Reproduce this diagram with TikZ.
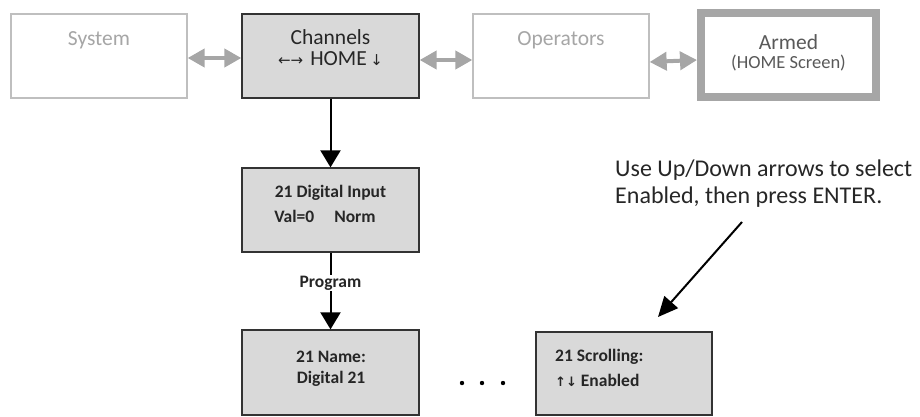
\documentclass[tikz,border=0pt]{standalone}
\usepackage{fontspec}
\setmainfont{Carlito}
\newfontfamily\arrfont{DejaVu Sans}
\usetikzlibrary{arrows.meta}
\definecolor{boxfill}{HTML}{D9D9D9}
\definecolor{lightedge}{HTML}{BFBFBF}
\definecolor{lighttext}{HTML}{A6A6A6}
\definecolor{midgray}{HTML}{A6A6A6}
\definecolor{armedtext}{HTML}{595959}
\definecolor{darktext}{HTML}{262626}
\tikzset{
  lightbox/.style={draw=lightedge, line width=1.3pt, fill=white, minimum width=176pt, minimum height=84pt, inner sep=0pt},
  greybox/.style={draw=black!80, line width=1.3pt, fill=boxfill, minimum width=177pt, minimum height=84pt, inner sep=0pt},
  armedbox/.style={draw=midgray, line width=8pt, fill=white, minimum width=175pt, minimum height=84pt, inner sep=0pt},
  bigtxt/.style={font=\fontsize{21.5}{25}\selectfont, inner sep=0pt},
  smalltxt/.style={font=\bfseries\fontsize{17.5}{20}\selectfont, text=darktext, inner sep=0pt},
  grayarrow/.style={draw=midgray, line width=4pt, {Triangle[length=17pt,width=18pt]}-{Triangle[length=17pt,width=18pt]}},
  blackarrow/.style={draw=black, line width=2pt, -{Triangle[length=17pt,width=20pt]}},
}
\begin{document}
\begin{tikzpicture}[x=1pt,y=-1pt]
\useasboundingbox (0,0) rectangle (920,416);

% top row
\node[lightbox] (sys) at (99,56) {};
\node[greybox] (ch) at (330.5,56) {};
\node[lightbox] (op) at (561,56) {};
\node[armedbox] (arm) at (788.5,55) {};

\node[bigtxt, text=lighttext] (sysT) at (99,40) {System};
\node[bigtxt, text=darktext] (chT1) at (330.5,37) {Channels};
\node[bigtxt, text=darktext, anchor=base] (chT2) at (330.5,65) {{\arrfont\fontsize{15}{17}\selectfont ←→}\,\,HOME\,{\arrfont\fontsize{15}{17}\selectfont ↓}};
\node[bigtxt, text=lighttext] (opT) at (561,40) {Operators};
\node[bigtxt, text=armedtext] (armT1) at (788.5,42) {Armed};
\node[inner sep=0pt, font=\fontsize{18.5}{20}\selectfont, text=armedtext] (armT2) at (788.5,63) {(HOME Screen)};

\draw[grayarrow] ([yshift=-2pt]sys.east) -- ([yshift=-2pt]ch.west);
\draw[grayarrow] ([yshift=-4pt]ch.east) -- ([yshift=-4pt]op.west);
\draw[grayarrow] ([yshift=-6pt]op.east) -- ([yshift=-5pt]arm.west);

% lower boxes
\node[greybox] (dig) at (330.5,210) {};
\node[smalltxt] (digT1) at (330.5,193) {21 Digital Input};
\node[smalltxt] (digT2) at (325,216) {Val=0\hspace{20pt}Norm};

\node[greybox, minimum height=85pt] (nm) at (330.5,372.5) {};
\node[smalltxt] (nmT1) at (331,357) {21 Name:};
\node[smalltxt] (nmT2) at (331,379) {Digital 21};

\node[greybox, minimum width=176pt, minimum height=83pt] (scr) at (624,373.5) {};
\node[smalltxt, anchor=west] (scrT1) at (555,357) {21 Scrolling:};
\node[smalltxt, anchor=west] (scrT2) at (555,380) {{\arrfont\fontsize{13}{15}\selectfont ↑↓} Enabled};

\draw[blackarrow] (ch.south) -- (dig.north);
\draw[blackarrow] (dig.south) -- (nm.north)
  node[pos=0.4, fill=white, inner sep=1pt, font=\bfseries\fontsize{17.5}{20}\selectfont, text=darktext] (prog) {Program};

% dots
\foreach \x/\n in {462/d1,482/d2,503/d3}
  \fill[black] (\x,383) circle (2.2pt);

% annotation
\node[anchor=north west, align=left, inner sep=0pt, font=\fontsize{24}{27}\selectfont, text=darktext] (ann) at (615,160) {Use Up/Down arrows to select\\Enabled, then press ENTER.};
\coordinate (annS) at (742,222);
\coordinate (annE) at (658,317);
\draw[black, line width=2pt, -{Triangle[length=20pt,width=18pt]}] (annS) -- (annE);
\end{tikzpicture}
\end{document}
